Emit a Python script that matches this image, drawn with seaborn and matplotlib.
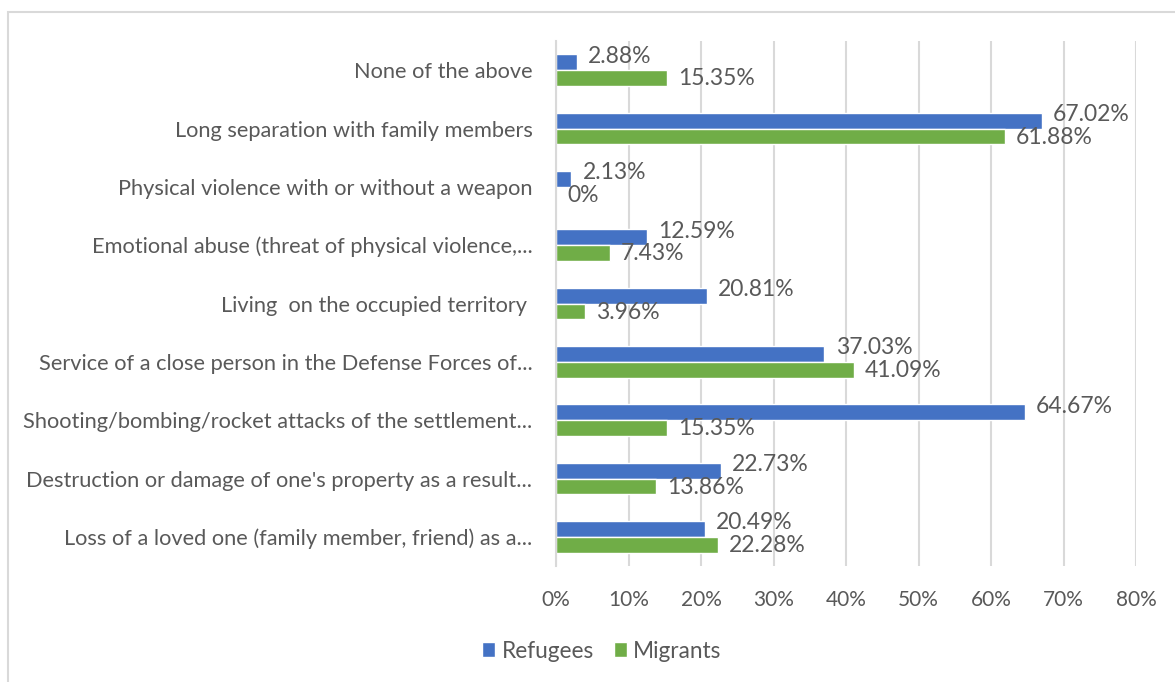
import matplotlib
matplotlib.use("Agg")
import matplotlib.pyplot as plt
import seaborn as sns
import pandas as pd
from matplotlib.patches import Rectangle
from matplotlib.ticker import FuncFormatter

# Traumatic experiences reported, share of respondents (%)
categories = [
    "None of the above",
    "Long separation with family members",
    "Physical violence with or without a weapon",
    "Emotional abuse (threat of physical violence,...",
    "Living  on the occupied territory ",
    "Service of a close person in the Defense Forces of...",
    "Shooting/bombing/rocket attacks of the settlement...",
    "Destruction or damage of one's property as a result...",
    "Loss of a loved one (family member, friend) as a...",
]
refugees = [2.88, 67.02, 2.13, 12.59, 20.81, 37.03, 64.67, 22.73, 20.49]
migrants = [15.35, 61.88, 0, 7.43, 3.96, 41.09, 15.35, 13.86, 22.28]
series_names = ["Refugees", "Migrants"]
x_ticks = [0, 10, 20, 30, 40, 50, 60, 70, 80]

df = pd.DataFrame({
    "category": categories * 2,
    "value": refugees + migrants,
    "group": [series_names[0]] * len(categories) + [series_names[1]] * len(categories),
})

sns.set_theme(style="white")
plt.rcParams["font.family"] = ["Lato", "DejaVu Sans"]

TEXT = "#595959"
GRID = "#d9d9d9"
W, H = 1175, 682

fig = plt.figure(figsize=(W / 100, H / 100), dpi=100)
ax = fig.add_axes([556 / W, 1 - 566 / H, (1136 - 556) / W, (566 - 41) / H])

sns.barplot(
    data=df, x="value", y="category", hue="group",
    order=categories, hue_order=series_names,
    palette=["#4472C4", "#70AD47"], saturation=1,
    width=0.54, gap=0, orient="h", ax=ax, errorbar=None,
)

handles, labels = ax.get_legend_handles_labels()
ax.get_legend().remove()

# value labels just past each bar end; the upper series is nudged up a little
for container, vals, dy in zip(ax.containers, [refugees, migrants], [4.5, -0.5]):
    anns = ax.bar_label(container, labels=[f"{v:g}%" for v in vals],
                        padding=8, fontsize=16.5, color=TEXT)
    for a in anns:
        a.xyann = (8, dy)

ax.set_xlim(0, 80)
ax.set_ylim(len(categories) - 0.5, -0.5)
ax.set_xticks(x_ticks)
ax.xaxis.set_major_formatter(FuncFormatter(lambda v, p: f"{v:g}%"))
ax.set_xlabel("")
ax.set_ylabel("")
ax.grid(axis="x", color=GRID, linewidth=1.5)
ax.set_axisbelow(True)
for side in ["top", "right", "bottom"]:
    ax.spines[side].set_visible(False)
ax.spines["left"].set_color(GRID)
ax.spines["left"].set_linewidth(1.5)
ax.tick_params(axis="both", length=0, labelcolor=TEXT)
ax.tick_params(axis="y", pad=17, labelsize=15.7)
ax.tick_params(axis="x", pad=17, labelsize=15)

fig.legend(handles, labels, loc="center", bbox_to_anchor=(602 / W, 1 - 651 / H),
           ncol=2, frameon=False, fontsize=16.3, labelcolor=TEXT,
           handlelength=0.55, handleheight=0.6, handletextpad=0.3, columnspacing=0.9)

fig.patches.append(Rectangle((8 / W, -0.05), 1.0, 1 - 12 / H + 0.05,
                             transform=fig.transFigure, fill=False,
                             edgecolor=GRID, linewidth=1.5))

fig.savefig("out.png", dpi=100, facecolor="white")
